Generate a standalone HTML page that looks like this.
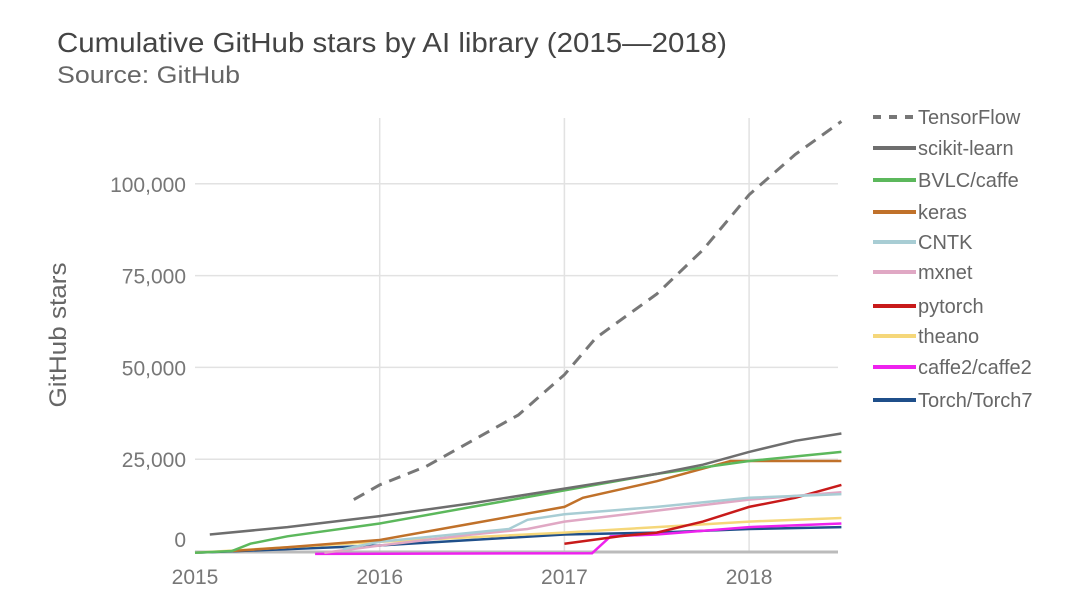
<!DOCTYPE html>
<html><head><meta charset="utf-8"><style>
body{margin:0;background:#fff;font-family:"Liberation Sans",sans-serif}
</style></head><body>
<svg width="1080" height="607" id="c" style="font-family:'Liberation Sans',sans-serif">
<text x="57" y="52" font-size="28" fill="#444" textLength="670" lengthAdjust="spacingAndGlyphs">Cumulative GitHub stars by AI library (2015—2018)</text>
<text x="57" y="83" font-size="24" fill="#666" textLength="183" lengthAdjust="spacingAndGlyphs">Source: GitHub</text>
<text transform="translate(66,335) rotate(-90)" text-anchor="middle" font-size="24" fill="#666" textLength="145" lengthAdjust="spacingAndGlyphs">GitHub stars</text>
<g id="grid"></g><g id="series"></g><g id="legend"></g>
</svg>
<script>
const yTicks=[0,25000,50000,75000,100000];
const yTickLabels=["0","25,000","50,000","75,000","100,000"];
const xTicks=[2015,2016,2017,2018];
const names=["TensorFlow","scikit-learn","BVLC/caffe","keras","CNTK","mxnet","pytorch","theano","caffe2/caffe2","Torch/Torch7"];
const colors=["#777","#6e6e6e","#5cb85c","#c0712a","#a8cdd4","#e0a8c4","#c81a1a","#f5d77a","#ee22ee","#1f4f8a"];
const sTensorFlow=[[2015.86,14],[2016,18],[2016.25,23],[2016.5,30],[2016.75,37],[2017,48],[2017.17,58],[2017.5,70],[2017.75,82],[2018,97],[2018.25,108],[2018.5,117]];
const sSklearn=[[2015.08,4.5],[2015.5,6.5],[2016,9.5],[2016.5,13],[2017,17],[2017.5,21],[2017.75,23.5],[2018,27],[2018.25,30],[2018.5,32]];
const sCaffe=[[2015,-0.5],[2015.2,0],[2015.3,2],[2015.5,4],[2016,7.5],[2016.5,12],[2017,16.5],[2017.5,21],[2018,24.5],[2018.5,27]];
const sKeras=[[2015.2,0],[2015.5,1],[2016,3],[2016.5,7.5],[2017,12],[2017.1,14.5],[2017.5,19],[2017.9,24.5],[2018.5,24.5]];
const sCNTK=[[2015.8,0.5],[2016,2.5],[2016.7,6],[2016.8,8.5],[2017,10],[2017.5,12],[2018,14.5],[2018.5,15.5]];
const sMxnet=[[2015.7,-0.5],[2016,1.5],[2016.5,4.5],[2016.8,6],[2017,8],[2017.5,11],[2018,14],[2018.5,16]];
const sPytorch=[[2017,2],[2017.3,4],[2017.5,5],[2017.75,8],[2018,12],[2018.25,14.5],[2018.5,18]];
const sTheano=[[2015,-0.5],[2016,2.5],[2017,5],[2017.5,6.5],[2018,8],[2018.5,9]];
const sCaffe2=[[2015.65,-0.8],[2017.15,-0.6],[2017.25,4],[2017.5,4.5],[2018,6.5],[2018.5,7.5]];
const sTorch=[[2015,-0.5],[2016,1.5],[2017,4.5],[2017.5,5],[2018,6],[2018.5,6.5]];
const allSeries=[sTensorFlow,sSklearn,sCaffe,sKeras,sCNTK,sMxnet,sPytorch,sTheano,sCaffe2,sTorch];
const NS="http://www.w3.org/2000/svg";
const X=t=>195+(t-2015)*184.7;
const Y=v=>551-v/25000*91.8;
function mk(tag,attrs,parent){const e=document.createElementNS(NS,tag);for(const k in attrs)e.setAttribute(k,attrs[k]);parent.appendChild(e);return e;}
const grid=document.getElementById('grid');
yTicks.forEach((v,i)=>{
 if(i>0){const l=mk('line',{x1:195,x2:838,y1:Y(v),y2:Y(v),stroke:'#e2e2e2','stroke-width':1.5},grid);
 
 }
 const t=mk('text',{x:186,y:Y(v)+(i==0?-4:8),'text-anchor':'end','font-size':21,fill:'#777'},grid);
 
 
 t.textContent=yTickLabels[i];
});
xTicks.forEach(v=>{
 if(v>2015){const l=mk('line',{x1:X(v),x2:X(v),y1:118,y2:552,stroke:'#e2e2e2','stroke-width':1.5},grid);
 
 }
 const t=mk('text',{x:X(v),y:584,'text-anchor':'middle','font-size':21,fill:'#777'},grid);
 
 
 t.textContent=v;
});
const ax=mk('line',{x1:195,x2:838,y1:552,y2:552,stroke:'#bbb','stroke-width':3},grid);


const sg=document.getElementById('series');
for(let i=allSeries.length-1;i>=0;i--){
 const d=allSeries[i].map((p,j)=>(j?'L':'M')+X(p[0]).toFixed(1)+','+Y(p[1]*1000).toFixed(1)).join('');
 const p=mk('path',{d:d,fill:'none',stroke:colors[i],'stroke-width':i==0?3:2.5,'stroke-dasharray':i==0?'12,8':'none'},sg);
 
 
}
const lg=document.getElementById('legend');
const ly=[117,148,180,212,242,272,306,336,367,400];
names.forEach((n,i)=>{
 const g=mk('g',{},lg);
 
 
 mk('line',{x1:873,x2:916,y1:ly[i],y2:ly[i],stroke:colors[i],'stroke-width':4,'stroke-dasharray':i==0?'8,8':'none'},g);
 const t=mk('text',{x:918,y:ly[i]+7,'font-size':20,fill:'#666'},g);
 t.textContent=n;
});
</script>
</body></html>
